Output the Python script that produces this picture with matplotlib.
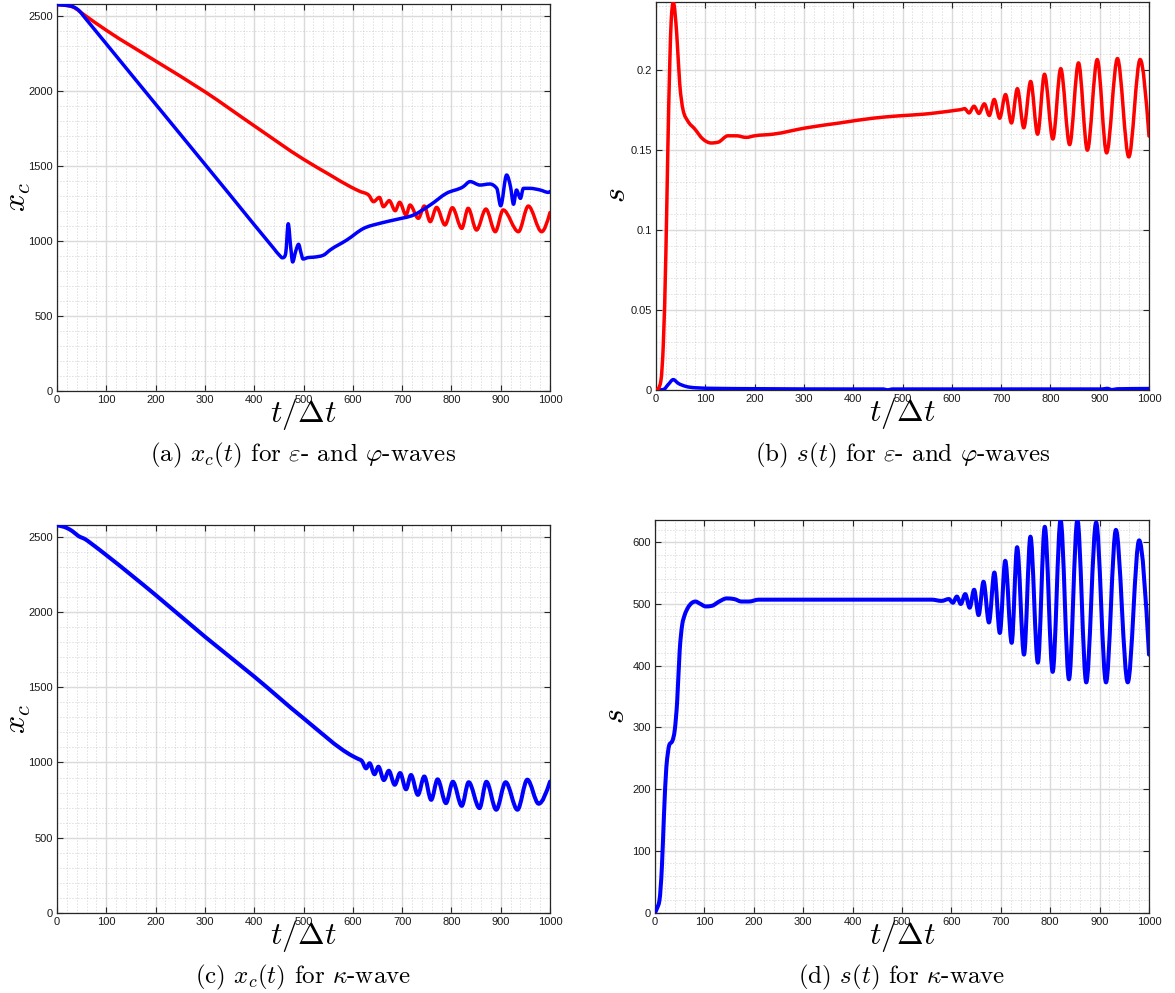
import numpy as np
import matplotlib
matplotlib.use("Agg")
import matplotlib.pyplot as plt
from matplotlib.path import Path
from matplotlib.patches import PathPatch

plt.rcParams['mathtext.fontset'] = 'cm'
plt.rcParams['font.family'] = ['Liberation Sans', 'DejaVu Sans']

# (a) x_c(t) for epsilon- (red) and phi-waves (blue)
ta_red = [0, 20, 35, 50, 100, 200, 300, 400, 500, 554, 595, 615,
          632, 642, 654, 662, 674, 686, 695, 708, 716, 733, 745, 757,
          770, 787, 802, 821, 834, 851, 870, 889, 905, 936, 956, 983, 1000]
xa_red = [2575, 2570, 2556, 2520, 2405, 2200, 1995, 1768, 1545, 1440, 1362, 1330,
          1307, 1262, 1291, 1229, 1269, 1202, 1258, 1173, 1240, 1151, 1233, 1129,
          1224, 1107, 1222, 1084, 1218, 1073, 1213, 1062, 1207, 1062, 1233, 1062, 1190]
ta_blue = [0, 25, 35, 45, 55, 150, 250, 350, 440, 452, 457, 461, 464, 469, 474, 478, 484, 490,
           495, 499, 510, 520, 540, 554, 588, 622, 655, 689, 723, 757, 790, 824,
           838, 858, 878, 892, 900, 912, 920, 926, 932, 940, 946, 959, 980, 997, 1000]
xa_blue = [2575, 2568, 2558, 2535, 2495, 2113, 1712, 1311, 949, 902, 888, 893, 920, 1115, 960, 860, 930, 978,
           920, 880, 890, 892, 905, 940, 1007, 1084, 1118, 1144, 1173, 1240, 1318, 1362,
           1396, 1373, 1380, 1351, 1235, 1440, 1360, 1245, 1340, 1284, 1351, 1351, 1340, 1324, 1330]

# (b) s(t) for epsilon- (red) and phi-waves (blue)
tb_red = [0, 5, 10, 15, 20, 24, 28, 31, 35, 42, 48, 55, 65, 78, 95, 112, 126, 146, 163,
          183, 200, 237, 305, 372, 440, 494, 542, 609, 620,
          626, 635, 645, 655, 666, 676, 686, 697, 709, 721, 733, 746, 760, 774,
          788, 805, 821, 839, 857, 875, 895, 914, 936, 959, 982, 1000]
sb_red = [0, 0.001, 0.006, 0.03, 0.085, 0.15, 0.205, 0.232, 0.2425, 0.223, 0.192, 0.175,
          0.168, 0.1635, 0.157, 0.1545, 0.155, 0.159, 0.159, 0.158, 0.159, 0.160, 0.164,
          0.167, 0.170, 0.1715, 0.1725, 0.175, 0.1755,
          0.176, 0.1733, 0.1775, 0.173, 0.179, 0.1717, 0.1817, 0.170, 0.1848, 0.167,
          0.1885, 0.164, 0.193, 0.160, 0.1975, 0.157, 0.201, 0.1535, 0.2046, 0.150,
          0.2067, 0.1483, 0.2073, 0.1458, 0.2067, 0.1588]
tb_blue = [0, 15, 25, 35, 45, 60, 80, 120, 200, 400, 460, 470, 480, 905, 915, 925, 935, 1000]
sb_blue = [0, 0.0003, 0.0035, 0.0065, 0.0042, 0.0023, 0.0014, 0.001, 0.0008, 0.0006,
           0.0006, 0.0001, 0.0006, 0.0006, 0.001, 0.0002, 0.0007, 0.0009]

# (c) x_c(t) for kappa-wave
tc = [0, 20, 32, 43, 58, 69, 100, 200, 300, 400, 500, 600, 612, 618,
      627, 634, 644, 652, 663, 673, 685, 696, 708, 718, 732, 745, 759, 772,
      789, 803, 821, 835, 857, 871, 891, 910, 934, 954, 977, 1000]
xc = [2576, 2558, 2535, 2506, 2482, 2456, 2378, 2113, 1836, 1571, 1294, 1042, 1022, 1012,
      961, 995, 922, 972, 883, 945, 852, 930, 822, 917, 785, 907, 752, 888,
      730, 872, 712, 869, 697, 872, 686, 869, 686, 886, 726, 873]

# (d) s(t) for kappa-wave
td = [0, 4, 9, 14, 18, 23, 26, 29, 35, 40, 45, 50, 55, 60, 66, 75, 82, 90, 103, 115,
      130, 145, 160, 175, 190, 210, 300, 400, 500, 560, 580, 595,
      603, 611, 619, 628, 637, 646, 655, 665, 676, 687, 698, 709, 722, 733, 747,
      760, 775, 789, 805, 821, 838, 855, 873, 893, 913, 933, 957, 980, 1000]
sd = [0, 7, 20, 75, 155, 236, 258, 272, 278, 296, 344, 425, 466, 482, 493, 502, 504, 501,
      496, 497, 504, 509, 508, 504, 504, 507, 507, 507, 507, 507, 505, 508,
      502, 512, 500, 516, 494, 523, 482, 536, 470, 551, 453, 570, 437, 592, 418,
      609, 405, 625, 390, 636, 378, 636, 373, 632, 373, 620, 373, 603, 418]

x_ticks = [0, 100, 200, 300, 400, 500, 600, 700, 800, 900, 1000]
xc_ticks = [0, 500, 1000, 1500, 2000, 2500]
sb_ticks = [0, 0.05, 0.1, 0.15, 0.2]
sb_ticklabels = ['0', '0.05', '0.1', '0.15', '0.2']
sd_ticks = [0, 100, 200, 300, 400, 500, 600]

captions = [r"(a) $x_c(t)$ for $\varepsilon$- and $\varphi$-waves",
            r"(b) $s(t)$ for $\varepsilon$- and $\varphi$-waves",
            r"(c) $x_c(t)$ for $\kappa$-wave",
            r"(d) $s(t)$ for $\kappa$-wave"]


def smooth_line(ax, x, y, color, lw=2.5):
    # monotone cubic bezier through the read points (like d3 curveMonotoneX)
    x = np.asarray(x, float)
    y = np.asarray(y, float)
    h = np.diff(x)
    s = np.diff(y) / h
    n = len(x)
    m = np.zeros(n)
    for i in range(1, n - 1):
        if s[i - 1] * s[i] > 0:
            p = (s[i - 1] * h[i] + s[i] * h[i - 1]) / (h[i - 1] + h[i])
            m[i] = 2 * np.sign(s[i]) * min(abs(s[i - 1]), abs(s[i]), 0.5 * abs(p))
    m[0] = (3 * s[0] - m[1]) / 2
    m[-1] = (3 * s[-1] - m[-2]) / 2
    verts = [(x[0], y[0])]
    codes = [Path.MOVETO]
    for i in range(n - 1):
        d = h[i] / 3
        verts += [(x[i] + d, y[i] + m[i] * d), (x[i + 1] - d, y[i + 1] - m[i + 1] * d),
                  (x[i + 1], y[i + 1])]
        codes += [Path.CURVE4] * 3
    ax.add_patch(PathPatch(Path(verts, codes), fill=False, edgecolor=color, lw=lw,
                           capstyle='round', joinstyle='round', zorder=3))


W, H = 1175, 993
fig = plt.figure(figsize=(W / 100, H / 100), dpi=100)

# axes boxes in pixels: left, right, top, bottom
boxes = [(57, 550, 4, 391), (656, 1149, 1.5, 390),
         (57, 550, 525, 913), (655, 1149, 520, 912.7)]
axs = []
for (l, r, t, b) in boxes:
    axs.append(fig.add_axes([l / W, 1 - b / H, (r - l) / W, (b - t) / H]))

frame = '#262626'
for ax in axs:
    ax.set_xlim(0, 1000)
    ax.set_xticks(x_ticks)
    ax.set_xticks(np.arange(0, 1001, 20), minor=True)
    ax.set_axisbelow(True)
    ax.grid(which='major', color='#dadada', lw=1.0, ls='-')
    ax.grid(which='minor', color='#c0c0c0', lw=0.6, ls=(0, (1, 2.6)))
    ax.tick_params(which='major', direction='in', top=True, right=True, length=4,
                   width=0.8, color=frame, labelsize=8, labelcolor='#1a1a1a', pad=3)
    ax.tick_params(which='minor', length=0)
    for sp in ax.spines.values():
        sp.set_color(frame)
        sp.set_linewidth(0.9)
    ax.set_xlabel(r"$t/\Delta t$", fontsize=23, va='top')
    ax.xaxis.set_label_coords(0.5, -0.014)

# (a)
ax = axs[0]
ax.set_ylim(0, 2580)
ax.set_yticks(xc_ticks)
ax.set_yticks(np.arange(0, 2580, 100), minor=True)
smooth_line(ax, ta_red, xa_red, '#ff0000')
smooth_line(ax, ta_blue, xa_blue, '#0000ff')
ax.set_ylabel(r"$x_c$", fontsize=23)

# (b)
ax = axs[1]
ax.set_ylim(0, 0.243)
ax.set_yticks(sb_ticks)
ax.set_yticklabels(sb_ticklabels)
ax.set_yticks(np.arange(0, 0.243, 0.01), minor=True)
smooth_line(ax, tb_blue, sb_blue, '#0000ff')
smooth_line(ax, tb_red, sb_red, '#ff0000')
ax.set_ylabel(r"$s$", fontsize=23)

# (c)
ax = axs[2]
ax.set_ylim(0, 2578)
ax.set_yticks(xc_ticks)
ax.set_yticks(np.arange(0, 2578, 100), minor=True)
smooth_line(ax, tc, xc, '#0000ff', lw=2.9)
ax.set_ylabel(r"$x_c$", fontsize=23)

# (d)
ax = axs[3]
ax.set_ylim(0, 636)
ax.set_yticks(sd_ticks)
ax.set_yticks(np.arange(0, 636, 20), minor=True)
smooth_line(ax, td, sd, '#0000ff', lw=2.9)
ax.set_ylabel(r"$s$", fontsize=23)

for ax in axs:
    ax.yaxis.set_label_coords(-0.049, 0.5)

cap_pos = [(303.5, 455), (902.5, 455), (303.5, 977), (902, 977)]
for (cx, cy), txt in zip(cap_pos, captions):
    fig.text(cx / W, 1 - cy / H, txt, ha='center', va='center', fontsize=18,
             family='cmr10')

fig.savefig('out.png', dpi=100)
